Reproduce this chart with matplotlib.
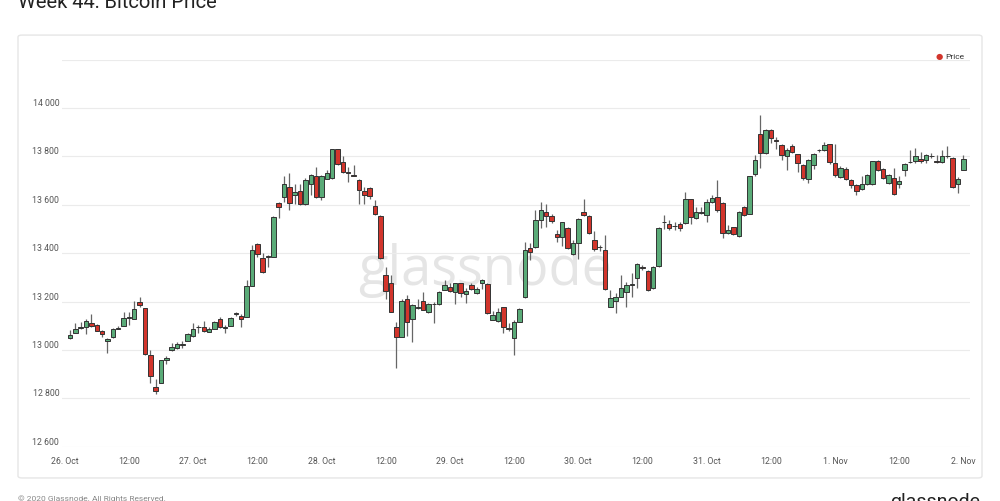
import matplotlib.pyplot as plt
from matplotlib.patches import FancyBboxPatch
import numpy as np

# hourly candles, hour 1 = 26 Oct 01:00
opens = [13048, 13072, 13092, 13094, 13110, 13104, 13077, 13037, 13053, 13087,
         13101, 13131, 13130, 13197, 13172, 12979, 12846, 12865, 12959, 12999,
         13008, 13022, 13039, 13057, 13094, 13093, 13076, 13087, 13128, 13092,
         13101, 13148, 13142, 13138, 13265, 13439, 13379, 13386, 13386, 13607,
         13634, 13674, 13639, 13656, 13602, 13687, 13720, 13632, 13708, 13711,
         13832, 13775, 13735, 13723, 13704, 13657, 13671, 13594, 13553, 13309,
         13277, 13096, 13055, 13210, 13130, 13174, 13202, 13155, 13190, 13190,
         13250, 13260, 13238, 13275, 13231, 13270, 13234, 13275, 13272, 13126,
         13121, 13176, 13090, 13048, 13117, 13218, 13421, 13425, 13538, 13572,
         13552, 13481, 13466, 13505, 13396, 13441, 13572, 13555, 13454, 13426,
         13414, 13179, 13204, 13220, 13239, 13269, 13297, 13345, 13326, 13255,
         13348, 13527, 13520, 13514, 13521, 13524, 13623, 13545, 13566, 13559,
         13611, 13632, 13607, 13483, 13508, 13472, 13593, 13563, 13728, 13891,
         13815, 13910, 13867, 13848, 13800, 13842, 13808, 13766, 13708, 13763,
         13826, 13825, 13850, 13774, 13715, 13749, 13701, 13683, 13666, 13687,
         13687, 13781, 13749, 13691, 13712, 13684, 13742, 13775, 13779, 13790,
         13786, 13800, 13783, 13777, 13800, 13795, 13687, 13745]
highs = [13083, 13113, 13117, 13128, 13148, 13108, 13082, 13051, 13090, 13099,
         13155, 13155, 13204, 13221, 13175, 13000, 12880, 12960, 12977, 13028,
         13033, 13039, 13069, 13113, 13103, 13121, 13097, 13121, 13138, 13104,
         13135, 13159, 13148, 13290, 13435, 13442, 13400, 13393, 13552, 13611,
         13717, 13731, 13687, 13687, 13712, 13728, 13756, 13723, 13743, 13832,
         13832, 13800, 13756, 13763, 13707, 13674, 13674, 13619, 13557, 13344,
         13309, 13117, 13211, 13227, 13192, 13210, 13240, 13196, 13200, 13244,
         13288, 13275, 13278, 13278, 13255, 13275, 13261, 13292, 13275, 13162,
         13172, 13179, 13110, 13124, 13172, 13448, 13442, 13579, 13610, 13603,
         13562, 13495, 13531, 13510, 13455, 13545, 13623, 13559, 13490, 13435,
         13476, 13248, 13235, 13310, 13283, 13317, 13359, 13352, 13329, 13348,
         13510, 13559, 13538, 13531, 13531, 13651, 13626, 13593, 13593, 13624,
         13641, 13703, 13610, 13517, 13510, 13575, 13597, 13721, 13804, 13970,
         13912, 13914, 13880, 13852, 13835, 13850, 13811, 13770, 13790, 13815,
         13832, 13860, 13853, 13852, 13760, 13756, 13708, 13687, 13721, 13728,
         13783, 13786, 13752, 13728, 13752, 13718, 13774, 13825, 13835, 13818,
         13811, 13815, 13807, 13825, 13843, 13797, 13715, 13804]
lows = [13045, 13069, 13088, 13066, 13097, 13077, 13055, 12986, 13048, 13085,
        13099, 13103, 13128, 13177, 12979, 12862, 12818, 12862, 12942, 12994,
        13004, 13008, 13036, 13055, 13070, 13076, 13073, 13086, 13090, 13069,
        13099, 13140, 13094, 13136, 13264, 13386, 13317, 13345, 13384, 13545,
        13610, 13577, 13605, 13598, 13599, 13639, 13629, 13619, 13705, 13705,
        13764, 13731, 13694, 13718, 13605, 13602, 13626, 13557, 13378, 13209,
        13155, 12924, 13052, 13058, 13034, 13171, 13165, 13151, 13110, 13186,
        13246, 13239, 13190, 13220, 13193, 13249, 13231, 13254, 13147, 13123,
        13117, 13071, 13080, 12979, 13114, 13216, 13372, 13422, 13503, 13510,
        13523, 13448, 13430, 13417, 13393, 13375, 13555, 13480, 13411, 13410,
        13248, 13176, 13152, 13217, 13179, 13221, 13255, 13331, 13244, 13252,
        13345, 13500, 13497, 13497, 13490, 13521, 13521, 13541, 13560, 13527,
        13607, 13572, 13462, 13480, 13476, 13466, 13553, 13560, 13717, 13752,
        13812, 13857, 13832, 13786, 13742, 13815, 13735, 13704, 13691, 13749,
        13820, 13821, 13770, 13715, 13711, 13701, 13670, 13639, 13663, 13683,
        13683, 13741, 13708, 13687, 13642, 13670, 13721, 13772, 13773, 13772,
        13772, 13795, 13772, 13772, 13795, 13670, 13650, 13742]
closes = [13062, 13086, 13097, 13121, 13101, 13080, 13065, 13046, 13087, 13092,
          13131, 13138, 13170, 13186, 12982, 12894, 12832, 12959, 12965, 13011,
          13025, 13026, 13066, 13086, 13097, 13079, 13088, 13117, 13093, 13097,
          13131, 13152, 13128, 13265, 13414, 13396, 13321, 13390, 13549, 13593,
          13685, 13608, 13653, 13602, 13704, 13722, 13632, 13718, 13733, 13832,
          13767, 13735, 13733, 13721, 13663, 13639, 13635, 13561, 13382, 13245,
          13158, 13052, 13203, 13117, 13185, 13176, 13167, 13192, 13192, 13240,
          13268, 13244, 13275, 13234, 13244, 13251, 13251, 13289, 13151, 13144,
          13159, 13096, 13088, 13114, 13168, 13414, 13407, 13538, 13577, 13552,
          13535, 13468, 13528, 13421, 13444, 13541, 13559, 13483, 13417, 13425,
          13251, 13214, 13220, 13255, 13269, 13271, 13356, 13340, 13246, 13345,
          13506, 13530, 13505, 13513, 13503, 13623, 13549, 13572, 13569, 13610,
          13628, 13577, 13483, 13497, 13480, 13570, 13556, 13717, 13786, 13815,
          13910, 13877, 13864, 13804, 13828, 13818, 13772, 13710, 13786, 13811,
          13828, 13846, 13777, 13724, 13752, 13705, 13680, 13659, 13687, 13724,
          13781, 13745, 13710, 13724, 13646, 13700, 13767, 13777, 13800, 13783,
          13807, 13802, 13777, 13800, 13802, 13673, 13708, 13788]
hours = np.arange(1, len(opens) + 1)

x_ticks = list(range(0, 169, 12))
x_labels = ['26. Oct', '12:00', '27. Oct', '12:00', '28. Oct', '12:00', '29. Oct', '12:00',
            '30. Oct', '12:00', '31. Oct', '12:00', '1. Nov', '12:00', '2. Nov']
y_ticks = [12600, 12800, 13000, 13200, 13400, 13600, 13800, 14000, 14200]

plt.rcParams['font.family'] = ['Roboto', 'DejaVu Sans']

fig = plt.figure(figsize=(10, 5.01), dpi=100)
fig.patch.set_facecolor('white')

# card around the chart
card = FancyBboxPatch((0.018, 0.046), 0.964, 0.884, boxstyle='round,pad=0,rounding_size=0.004',
                      transform=fig.transFigure, facecolor='white', edgecolor='#e6e6e6',
                      linewidth=1, zorder=-10)
fig.patches.append(card)

ax = fig.add_axes([0.062, 0.1082, 0.9084, 0.7728])
ax.set_facecolor('none')
ax.set_zorder(2)

opens = np.array(opens)
closes = np.array(closes)
up = closes >= opens
green = '#5aab78'
red = '#d2352c'
colors = np.where(up, green, red)

ax.vlines(hours, lows, highs, color='#666666', linewidth=0.9, zorder=2)
bottoms = np.minimum(opens, closes)
heights = np.abs(closes - opens)
ax.bar(hours, heights, bottom=bottoms, width=0.84, color=colors,
       edgecolor='#333333', linewidth=0.7, zorder=3)

# watermark
ax.text(0.466, 0.418, 'glassnode', transform=ax.transAxes, fontsize=39,
        family='Open Sans', color='#e5e5e5', ha='center', va='baseline', zorder=0)

ax.set_xlim(-0.5, 169.3)
ax.set_ylim(12600, 14200)
ax.set_yticks(y_ticks)
ax.set_yticklabels([f'{v:,}'.replace(',', ' ') if v < 14200 else '' for v in y_ticks])
ax.set_xticks(x_ticks)
ax.set_xticklabels(x_labels)
ax.tick_params(axis='y', length=0, pad=2, labelsize=6.3, labelcolor='#555555')
ax.tick_params(axis='x', length=0, pad=7, labelsize=6.3, labelcolor='#555555')
for lab in ax.get_yticklabels():
    lab.set_verticalalignment('bottom')
ax.grid(axis='y', color='#ebebeb', linewidth=0.8, zorder=0)
ax.set_axisbelow(True)
for s in ax.spines.values():
    s.set_visible(False)

# legend
fig.text(0.939, 1 - 57 / 501, '\u25CF', color=red, fontsize=6, ha='center', va='center')
fig.text(0.945, 1 - 57 / 501, 'Price', color='#333333', fontsize=6, ha='left', va='center')

fig.text(0.018, 1 - 7.5 / 501, 'Week 44: Bitcoin Price', fontsize=14.5, color='#222222',
         ha='left', va='baseline')
fig.text(0.018, 1 - 495 / 501, '\u00A9 2020 Glassnode. All Rights Reserved.', fontsize=6,
         color='#888888', ha='left', va='top')
fig.text(0.98, 1 - 493 / 501, 'glassnode', fontsize=14, color='#222222', ha='right',
         va='top')

fig.savefig('out.png', dpi=100, facecolor='white')
